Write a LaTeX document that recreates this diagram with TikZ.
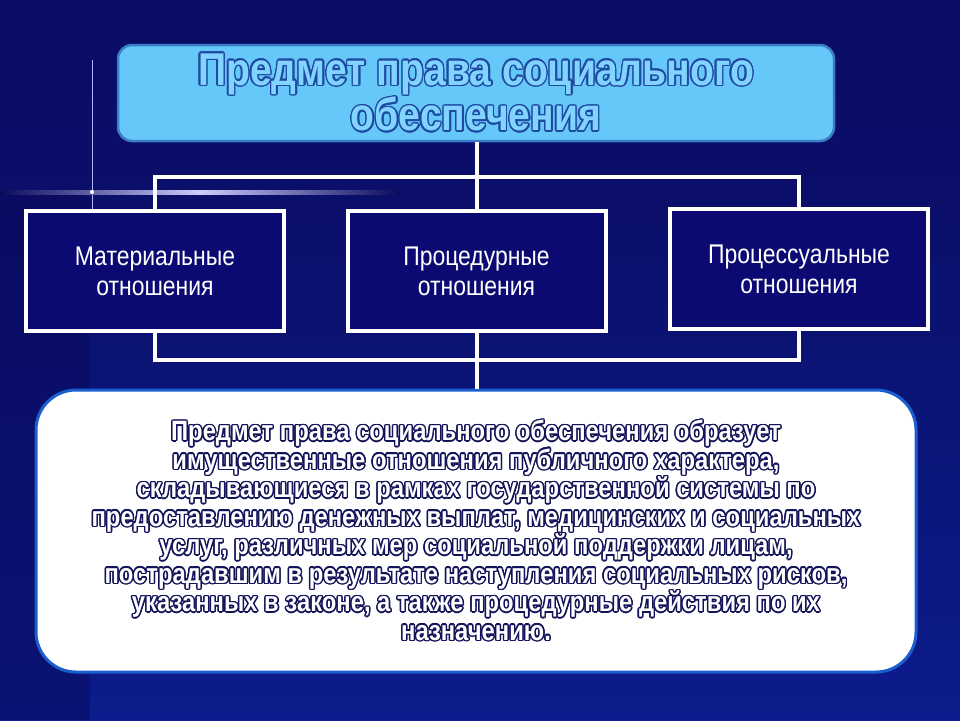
\documentclass[tikz,border=0pt]{standalone}
\usepackage{fontspec}
\setmainfont{Liberation Sans}
\newfontfamily\narrowf[FakeStretch=0.85]{Liberation Sans}
\usepackage[copies]{contour}
\contourlength{1.4pt}
\usetikzlibrary{calc}
\definecolor{bgtop}{HTML}{0A0A5C}
\definecolor{bgbot}{HTML}{0C1C8C}
\definecolor{boxfill}{HTML}{0A0A72}
\definecolor{titlefill}{HTML}{66C8F8}
\definecolor{titleedge}{HTML}{3A7CC8}
\definecolor{titletxt}{HTML}{80D4FF}
\definecolor{titleline}{HTML}{1E4AA0}
\definecolor{bottomedge}{HTML}{1A5FD0}
\definecolor{outl}{HTML}{14145A}
\newcommand{\ttl}[1]{\contour{titleline}{\textcolor{titletxt}{#1}}}
\newcommand{\btl}[1]{\contour{outl}{\textcolor{white}{#1}}}
\tikzset{
  relbox/.style={draw=white, line width=4pt, fill=boxfill, minimum width=258pt, minimum height=120pt, align=center, text=white, font=\narrowf\fontsize{27}{30}\selectfont},
  conn/.style={draw=white, line width=4pt}
}
\begin{document}
\begin{tikzpicture}[x=1pt,y=-1pt]
\useasboundingbox (0,0) rectangle (960,720);
\shade[top color=bgtop, bottom color=bgbot] (0,0) rectangle (960,720);
\fill[bgtop!70!bgbot, opacity=0.6] (0,0) rectangle (960,190);
\fill[bgtop, opacity=0.5] (0,190) rectangle (90,720);
% sparkle
\draw[white!70!blue, line width=1pt] (92,60) -- (92,210);
\shade[left color=bgtop, right color=bgtop, middle color=white!80!blue] (0,190) rectangle (400,194);
\fill[white] (92,192) circle (2pt);
% title
\node[draw=titleedge, line width=2.5pt, fill=titlefill, rounded corners=14pt, minimum width=716pt, minimum height=96pt, align=center, font=\narrowf\bfseries\fontsize{46}{44}\selectfont] (title) at (476,93) {\ttl{Предмет права социального}\\\ttl{обеспечения}};
% boxes
\node[relbox] (m) at (155,271) {Материальные\\отношения};
\node[relbox] (p) at (476.5,271) {Процедурные\\отношения};
\node[relbox] (q) at (799,269) {Процессуальные\\отношения};
% bottom
\node[draw=bottomedge, line width=3pt, fill=white, rounded corners=40pt, minimum width=880pt, minimum height=282pt, align=center, font=\narrowf\bfseries\fontsize{28}{28.5}\selectfont] (b) at (476,531) {%
\btl{Предмет права социального обеспечения образует}\\
\btl{имущественные отношения публичного характера,}\\
\btl{складывающиеся в рамках государственной системы по}\\
\btl{предоставлению денежных выплат, медицинских и социальных}\\
\btl{услуг, различных мер социальной поддержки лицам,}\\
\btl{пострадавшим в результате наступления социальных рисков,}\\
\btl{указанных в законе, а также процедурные действия по их}\\
\btl{назначению.}};
% connectors
\coordinate (tj) at (477,177);
\coordinate (bj) at (477,360);
\draw[conn] (title.south -| tj) -- (p.north -| tj);
\draw[conn] (m.north) |- (tj) -| (q.north);
\draw[conn] (m.south) |- (bj) -| (q.south);
\draw[conn] (p.south -| bj) -- (b.north -| bj);
\end{tikzpicture}
\end{document}
